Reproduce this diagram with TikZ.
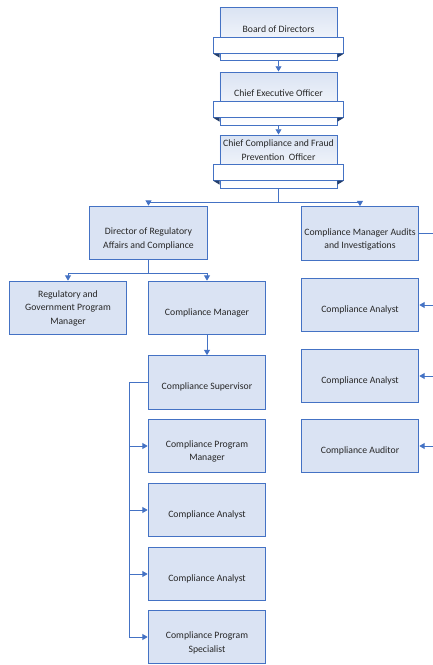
\documentclass[tikz,border=0pt]{standalone}
\usepackage{fontspec}
\setmainfont{Carlito}
\usetikzlibrary{arrows.meta,positioning,calc}
\definecolor{orgline}{HTML}{4472C4}
\definecolor{orgfill}{HTML}{DAE3F3}
\definecolor{orgtext}{HTML}{262626}

\begin{document}
\begin{tikzpicture}[x=0.03cm,y=-0.03cm,
  post/.style={draw=orgline,line width=.8pt,fill=orgfill,align=center,
    minimum width=3.53cm,minimum height=1.61cm,inner sep=1pt,text=orgtext,
    font=\fontsize{8.3}{11.5}\selectfont},
  unit/.style={post,text height=#1},
  unit/.default=13.5pt,
  officer/.style={post,fill=none,top color=orgfill,bottom color=white,
    minimum width=3.51cm,minimum height=1.59cm},
  ribbon/.style={draw=orgline,line width=.8pt,fill=white,
    minimum width=3.9cm,minimum height=.46cm,inner sep=0pt},
  title/.style={align=center,inner sep=0pt,text=orgtext,
    font=\fontsize{8.3}{12}\selectfont},
  fold/.style={fill=orgline!55!black},
  link/.style={draw=orgline,line width=.8pt},
  handoff/.style={link,-{Triangle[length=4.5pt,width=5pt]}}
]
% page size of the reference, in pixels
\useasboundingbox (0,0) rectangle (433,665);

% officers on top
\node[officer] (board) at (278.5,33.5) {};
\node[ribbon] (board-bar) at (278.5,45.5) {};
\node[title] (board-title) at (278.5,29) {Board of Directors};
\fill[fold] (board-bar.south west) -- (board.south west |- board-bar.south) -- ++(0,4) -- cycle;
\fill[fold] (board-bar.south east) -- (board.south east |- board-bar.south) -- ++(0,4) -- cycle;

\node[officer] (ceo) at (278.5,98.5) {};
\node[ribbon] (ceo-bar) at (278.5,109.5) {};
\node[title] (ceo-title) at (278.5,93) {Chief Executive Officer};
\fill[fold] (ceo-bar.south west) -- (ceo.south west |- ceo-bar.south) -- ++(0,4) -- cycle;
\fill[fold] (ceo-bar.south east) -- (ceo.south east |- ceo-bar.south) -- ++(0,4) -- cycle;

\node[officer] (cco) at (278.5,161.5) {};
\node[ribbon] (cco-bar) at (278.5,172.5) {};
\node[title] (cco-title) at (278.5,150) {Chief Compliance and Fraud\\Prevention\ \ Officer};
\fill[fold] (cco-bar.south west) -- (cco.south west |- cco-bar.south) -- ++(0,4) -- cycle;
\fill[fold] (cco-bar.south east) -- (cco.south east |- cco-bar.south) -- ++(0,4) -- cycle;

% regulatory branch
\node[unit=27pt] (director) at (148.5,233) {Director of Regulatory\\Affairs and Compliance};
\node[post] (rgpm) at (68,308) {Regulatory and\\Government Program\\Manager};
\node[unit] (cm) at (207,308) {Compliance Manager};
\node[unit] (cs) at (207,382.5) {Compliance Supervisor};
\node[unit=27pt] (cpm) at (207,446) {Compliance Program\\Manager};
\node[unit] (ca-1) at (207,510) {Compliance Analyst};
\node[unit] (ca-2) at (207,574) {Compliance Analyst};
\node[unit=27pt] (cps) at (207,637) {Compliance Program\\Specialist};

% audit branch
\node[unit=27pt] (cma) at (360,233.5) {Compliance Manager Audits\\and Investigations};
\node[unit] (ca-3) at (360,305) {Compliance Analyst};
\node[unit] (ca-4) at (360,376) {Compliance Analyst};
\node[unit] (auditor) at (360,446) {Compliance Auditor};

\coordinate (top-split) at (278.5,202);
\coordinate (dir-split) at (148.5,273);
\coordinate (left-bus) at (129,382.5);
\coordinate (right-bus) at (436,233.5);

\draw[handoff] (board) -- (ceo);
\draw[handoff] (ceo) -- (cco);
\draw[link] (cco) -- (top-split);
\draw[handoff] (top-split) -| (director);
\draw[handoff] (top-split) -| (cma);

\draw[link] (director) -- (dir-split);
\draw[handoff] (dir-split) -| (rgpm);
\draw[handoff] (dir-split) -| (cm);
\draw[handoff] (cm) -- (cs);

\draw[link] (cs) -- (left-bus) -- (left-bus |- cps);
\draw[handoff] (left-bus |- cpm) -- (cpm);
\draw[handoff] (left-bus |- ca-1) -- (ca-1);
\draw[handoff] (left-bus |- ca-2) -- (ca-2);
\draw[handoff] (left-bus |- cps) -- (cps);

\draw[link] (cma) -- (right-bus) -- (right-bus |- auditor);
\draw[handoff] (right-bus |- ca-3) -- (ca-3);
\draw[handoff] (right-bus |- ca-4) -- (ca-4);
\draw[handoff] (right-bus |- auditor) -- (auditor);
\end{tikzpicture}
\end{document}
